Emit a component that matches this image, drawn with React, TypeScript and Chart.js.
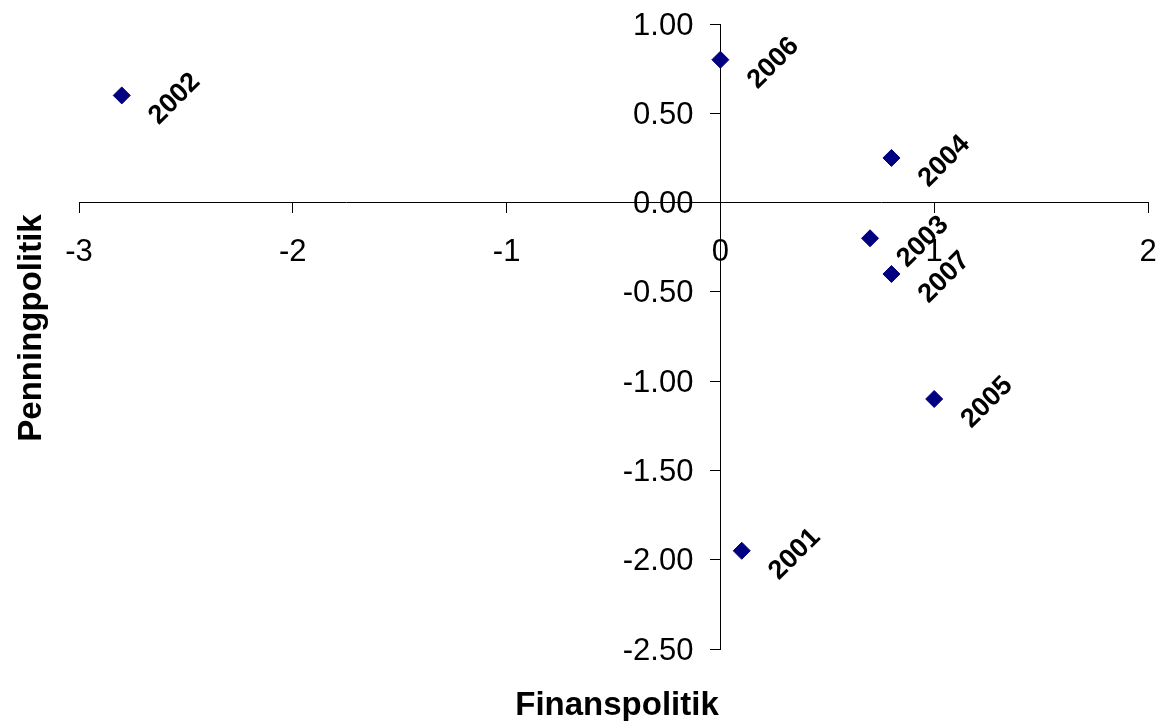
import React, { useEffect, useRef } from "react";
import { Chart, registerables } from "chart.js";

Chart.register(...registerables);

const years = ["2001", "2002", "2003", "2004", "2005", "2006", "2007"];
const finanspolitik = [0.1, -2.8, 0.7, 0.8, 1.0, 0.0, 0.8];
const penningpolitik = [-1.95, 0.6, -0.2, 0.25, -1.1, 0.8, -0.4];

const xTitle = "Finanspolitik";
const yTitle = "Penningpolitik";

const FONT = "'Liberation Sans', Arial, sans-serif";

const labelPlugin = {
  id: "yearLabels",
  afterDatasetsDraw(chart: any) {
    const ctx = chart.ctx;
    const meta = chart.getDatasetMeta(0);
    ctx.save();
    ctx.fillStyle = "#000";
    ctx.font = `bold 27px ${FONT}`;
    ctx.textAlign = "left";
    ctx.textBaseline = "alphabetic";
    meta.data.forEach((el: any, i: number) => {
      ctx.save();
      ctx.translate(el.x + 37, el.y + 30);
      ctx.rotate(-Math.PI / 4);
      ctx.fillText(years[i], 0, 0);
      ctx.restore();
    });
    ctx.restore();
  },
};

const tickLabelPlugin = {
  id: "tickLabels",
  afterDraw(chart: any) {
    const ctx = chart.ctx;
    const xs = chart.scales.x;
    const ys = chart.scales.y;
    const axisY = ys.getPixelForValue(0);
    const axisX = xs.getPixelForValue(0);
    ctx.save();
    ctx.fillStyle = "#000";
    ctx.font = `31px ${FONT}`;
    ctx.textBaseline = "alphabetic";
    ctx.textAlign = "center";
    xs.ticks.forEach((t: any) => {
      ctx.fillText(String(t.value), xs.getPixelForValue(t.value), axisY + 58);
    });
    ctx.textAlign = "right";
    ys.ticks.forEach((t: any) => {
      ctx.fillText(Number(t.value).toFixed(2), axisX - 27, ys.getPixelForValue(t.value) + 10.5);
    });
    ctx.restore();
  },
};

const titlePlugin = {
  id: "axisTitles",
  afterDraw(chart: any) {
    const ctx = chart.ctx;
    ctx.save();
    ctx.fillStyle = "#000";
    ctx.font = `bold 33px ${FONT}`;
    ctx.textAlign = "center";
    ctx.textBaseline = "alphabetic";
    ctx.fillText(xTitle, 617, 715);
    ctx.translate(41, 328);
    ctx.rotate(-Math.PI / 2);
    ctx.fillText(yTitle, 0, 0);
    ctx.restore();
  },
};

export default function App() {
  const ref = useRef<HTMLCanvasElement | null>(null);
  useEffect(() => {
    if (!ref.current) return;
    const chart = new Chart(ref.current, {
      type: "scatter",
      data: {
        datasets: [
          {
            data: finanspolitik.map((x, i) => ({ x, y: penningpolitik[i] })),
            pointStyle: "rectRot",
            pointRadius: 8.5,
            pointHoverRadius: 8.5,
            backgroundColor: "#000080",
            borderColor: "#000080",
            borderWidth: 1,
          },
        ],
      },
      options: {
        animation: false,
        responsive: false,
        maintainAspectRatio: false,
        layout: { padding: { left: 79, right: 12, top: 24, bottom: 72 } },
        plugins: {
          legend: { display: false },
          tooltip: { enabled: false },
        },
        scales: {
          x: {
            type: "linear",
            position: { y: 0 } as any,
            min: -3,
            max: 2,
            ticks: { stepSize: 1, display: false },
            grid: {
              display: true,
              drawOnChartArea: false,
              drawTicks: true,
              tickLength: 10,
              color: "#000",
              lineWidth: 1,
            },
            border: { display: true, color: "#000", width: 1 },
          },
          y: {
            type: "linear",
            position: { x: 0 } as any,
            min: -2.5,
            max: 1,
            ticks: { stepSize: 0.5, display: false },
            grid: {
              display: true,
              drawOnChartArea: false,
              drawTicks: true,
              tickLength: 10,
              color: "#000",
              lineWidth: 1,
            },
            border: { display: true, color: "#000", width: 1 },
          },
        },
      },
      plugins: [labelPlugin, tickLabelPlugin, titlePlugin],
    });
    return () => chart.destroy();
  }, []);
  return (
    <div style={{ position: "fixed", left: 0, top: 0, width: 1160, height: 721, background: "#fff" }}>
      <canvas ref={ref} width={1160} height={721} style={{ width: 1160, height: 721, display: "block" }} />
    </div>
  );
}
